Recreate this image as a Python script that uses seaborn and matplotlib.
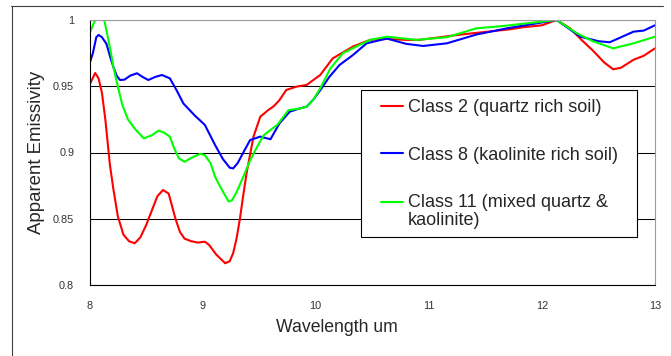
import numpy as np
import pandas as pd
import matplotlib
matplotlib.use("Agg")
import matplotlib.pyplot as plt
from matplotlib.lines import Line2D
from matplotlib.patches import Rectangle
from matplotlib.legend_handler import HandlerLine2D
import seaborn as sns

# Class 2 (quartz rich soil)
wl_class2 = [8.00, 8.05, 8.08, 8.11, 8.14, 8.18, 8.21, 8.25, 8.30, 8.35, 8.40, 8.45,
             8.50, 8.55, 8.60, 8.65, 8.70, 8.76, 8.80, 8.84, 8.90, 8.96, 9.02, 9.06,
             9.12, 9.20, 9.24, 9.27, 9.30, 9.33, 9.36, 9.39, 9.45, 9.51, 9.58, 9.63,
             9.68, 9.74, 9.83, 9.92, 10.04, 10.15, 10.33, 10.48, 10.63, 10.80, 10.92,
             11.10, 11.28, 11.50, 11.72, 11.83, 12.00, 12.13, 12.25, 12.35, 12.45,
             12.55, 12.63, 12.70, 12.81, 12.90, 13.00]
em_class2 = [0.951, 0.960, 0.956, 0.945, 0.925, 0.891, 0.873, 0.852, 0.838, 0.833, 0.8315, 0.836,
             0.845, 0.856, 0.867, 0.8717, 0.869, 0.850, 0.840, 0.835, 0.833, 0.832, 0.8327, 0.830,
             0.823, 0.8164, 0.818, 0.824, 0.835, 0.850, 0.868, 0.885, 0.912, 0.927, 0.932, 0.935,
             0.9396, 0.9472, 0.9497, 0.951, 0.9585, 0.971, 0.980, 0.985, 0.9857, 0.985, 0.985,
             0.987, 0.989, 0.991, 0.993, 0.9945, 0.996, 1.000, 0.9937, 0.985, 0.977,
             0.968, 0.9628, 0.964, 0.970, 0.973, 0.9786]

# Class 8 (kaolinite rich soil)
wl_class8 = [8.00, 8.03, 8.06, 8.08, 8.11, 8.15, 8.18, 8.21, 8.24, 8.27, 8.31, 8.36,
             8.42, 8.47, 8.52, 8.58, 8.64, 8.71, 8.77, 8.83, 8.93, 9.02, 9.11, 9.18,
             9.24, 9.27, 9.31, 9.36, 9.42, 9.51, 9.60, 9.68, 9.77, 9.85, 9.92, 9.98,
             10.04, 10.12, 10.21, 10.33, 10.45, 10.63, 10.80, 10.95, 11.16, 11.42,
             11.69, 11.92, 12.13, 12.34, 12.50, 12.60, 12.70, 12.81, 12.90, 13.00]
em_class8 = [0.967, 0.975, 0.987, 0.9887, 0.987, 0.982, 0.973, 0.9648, 0.958, 0.9547, 0.955, 0.958,
             0.9598, 0.957, 0.9547, 0.957, 0.9585, 0.956, 0.947, 0.937, 0.928, 0.9208, 0.9057, 0.895,
             0.8885, 0.888, 0.892, 0.900, 0.9094, 0.912, 0.910, 0.922, 0.9308, 0.933, 0.9346, 0.940,
             0.947, 0.957, 0.966, 0.9736, 0.9824, 0.986, 0.982, 0.9804, 0.9824, 0.989,
             0.9937, 0.997, 1.000, 0.9874, 0.984, 0.9832, 0.987, 0.9912, 0.992, 0.996]

# Class 11 (mixed quartz & kaolinite)
wl_class11 = [8.00, 8.03, 8.05, 8.08, 8.11, 8.13, 8.16, 8.19, 8.21, 8.25, 8.29, 8.34,
              8.40, 8.48, 8.55, 8.61, 8.66, 8.71, 8.75, 8.79, 8.84, 8.90, 8.98, 9.02,
              9.07, 9.11, 9.17, 9.23, 9.26, 9.30, 9.36, 9.42, 9.48, 9.54, 9.60, 9.66,
              9.76, 9.85, 9.92, 9.98, 10.04, 10.13, 10.24, 10.36, 10.48, 10.63, 10.89,
              11.16, 11.42, 11.66, 11.92, 12.13, 12.31, 12.45, 12.63, 12.81, 13.00]
em_class11 = [0.990, 0.996, 1.000, 1.006, 1.005, 1.000, 0.988, 0.975, 0.965, 0.950, 0.936, 0.925,
              0.918, 0.9107, 0.913, 0.9165, 0.915, 0.912, 0.903, 0.8956, 0.893, 0.896, 0.899, 0.898,
              0.892, 0.8817, 0.872, 0.863, 0.864, 0.870, 0.8817, 0.894, 0.904, 0.913, 0.917, 0.9208,
              0.932, 0.933, 0.9346, 0.940, 0.9484, 0.9635, 0.9749, 0.980, 0.985, 0.9874, 0.985,
              0.987, 0.9937, 0.9955, 0.998, 1.000, 0.990, 0.984, 0.9786, 0.9824, 0.9874]

series_labels = ["Class 2 (quartz rich soil)",
                 "Class 8 (kaolinite rich soil)",
                 "Class 11 (mixed quartz &\nkaolinite)"]
series_colors = ["#ff0000", "#0000ff", "#00ff00"]

x_ticks = [8, 9, 10, 11, 12, 13]
y_ticks = [0.8, 0.85, 0.9, 0.95, 1.0]
y_tick_labels = ["0.8", "0.85", "0.9", "0.95", "1"]


class FirstLineHandler(HandlerLine2D):
    # put the legend line next to the first row of a two-row label
    def create_artists(self, legend, orig_handle, xdescent, ydescent, width,
                       height, fontsize, trans):
        artists = super().create_artists(legend, orig_handle, xdescent, ydescent,
                                         width, height, fontsize, trans)
        for a in artists:
            a.set_ydata(np.asarray(a.get_ydata()) + 0.55 * fontsize)
        return artists


sns.set_style("white")
plt.rcParams["font.family"] = ["Liberation Sans", "DejaVu Sans"]

W, H = 671, 356
fig = plt.figure(figsize=(W / 100, H / 100), dpi=100)
ax = fig.add_axes([89.5 / W, 1 - 285 / H, (655 - 89.5) / W, (285 - 20) / H])

all_x = [wl_class2, wl_class8, wl_class11]
all_y = [em_class2, em_class8, em_class11]
for xs, ys, lab, col in zip(all_x, all_y, series_labels, series_colors):
    df = pd.DataFrame({"wavelength": xs, "emissivity": ys})
    sns.lineplot(data=df, x="wavelength", y="emissivity", color=col, label=lab,
                 linewidth=1.5, ax=ax, legend=False)

ax.set_xlim(8, 13)
ax.set_ylim(0.8, 1.0)
ax.set_xticks(x_ticks)
ax.set_xticklabels([str(t) for t in x_ticks])
ax.set_yticks(y_ticks)
ax.set_yticklabels(y_tick_labels)

ax.yaxis.grid(True, color="black", linewidth=0.75)
ax.xaxis.grid(False)
ax.set_axisbelow(True)

for side in ["left", "bottom"]:
    ax.spines[side].set_color("black")
    ax.spines[side].set_linewidth(0.8)
for side in ["top", "right"]:
    ax.spines[side].set_color("#9a9a9a")
    ax.spines[side].set_linewidth(0.8)

ax.tick_params(axis="both", direction="out", length=4, width=0.8, color="black",
               labelsize=7.8, labelcolor="#333333")
ax.tick_params(axis="y", pad=7)
ax.tick_params(axis="x", pad=7.5)

ax.set_xlabel("Wavelength um", fontsize=12.7)
ax.set_ylabel("Apparent Emissivity", fontsize=13.4)
ax.xaxis.set_label_coords((336.5 - 89.5) / (655 - 89.5), -0.13)
ax.yaxis.set_label_coords(-0.079, 0.5)

# legend box
ax.add_patch(Rectangle((361 / W, 1 - 237 / H), (637 - 361) / W, (237 - 90) / H,
                       transform=fig.transFigure, facecolor="white",
                       edgecolor="black", linewidth=0.8, zorder=4, clip_on=False))
handles, labels = ax.get_legend_handles_labels()
leg = ax.legend(handles, labels, loc="upper left",
                bbox_to_anchor=(381 / W, 1 - 99.5 / H), bbox_transform=fig.transFigure,
                frameon=False, borderpad=0, borderaxespad=0,
                handlelength=22 / 18.06, handletextpad=5 / 18.06,
                labelspacing=1.67, prop={"size": 13},
                handler_map={handles[2]: FirstLineHandler()})
leg.set_zorder(5)
for t in leg.get_texts():
    t.set_linespacing(1.1)

# outer chart frame (top and left edges)
fig.add_artist(Line2D([11 / W, 663 / W], [1 - 6 / H, 1 - 6 / H],
                      transform=fig.transFigure, color="#404040", linewidth=0.8))
fig.add_artist(Line2D([11.5 / W, 11.5 / W], [0, 1 - 6 / H],
                      transform=fig.transFigure, color="#404040", linewidth=0.8))

fig.savefig("out.png", dpi=100, facecolor="white")
